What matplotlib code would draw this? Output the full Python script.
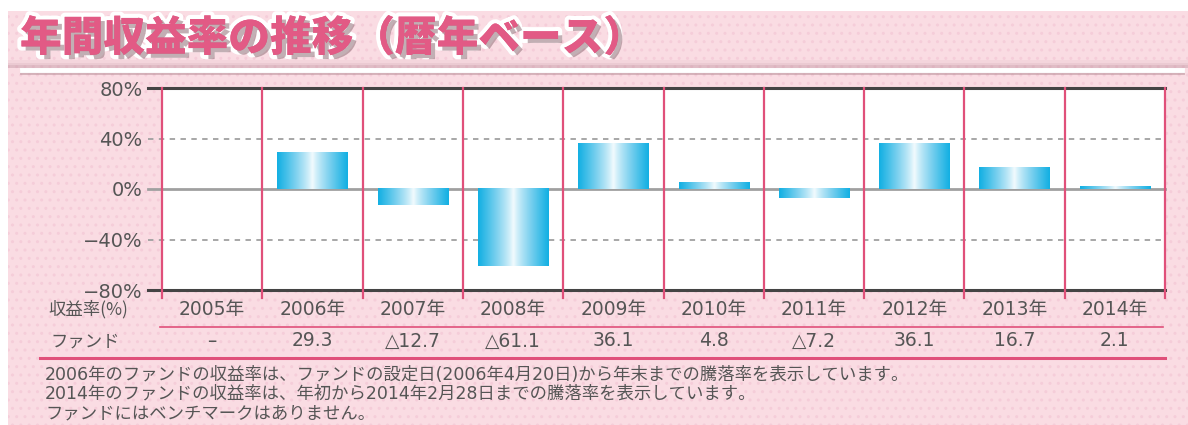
import matplotlib
matplotlib.use("Agg")
import matplotlib.pyplot as plt
import matplotlib.patheffects as pe
from matplotlib.patches import Rectangle
from matplotlib.colors import LinearSegmentedColormap
import matplotlib.transforms as mtransforms
import numpy as np

plt.rcParams['font.family'] = ['DejaVu Sans', 'Noto Sans CJK JP']

# ---- data ----
years = ["2005年", "2006年", "2007年", "2008年", "2009年", "2010年", "2011年", "2012年", "2013年", "2014年"]
fund_returns = [None, 29.3, -12.7, -61.1, 36.1, 4.8, -7.2, 36.1, 16.7, 2.1]
y_ticks = [80, 40, 0, -40, -80]
y_tick_labels = ["80%", "40%", "0%", "−40%", "−80%"]
title = "年間収益率の推移（暦年ベース）"
row_header = "収益率(%)"
row_label = "ファンド"
notes = [
    "2006年のファンドの収益率は、ファンドの設定日(2006年4月20日)から年末までの騰落率を表示しています。",
    "2014年のファンドの収益率は、年初から2014年2月28日までの騰落率を表示しています。",
    "ファンドにはベンチマークはありません。",
]

W, H = 1188, 425
fig = plt.figure(figsize=(W / 100, H / 100), dpi=100)
fig.patch.set_facecolor("white")

def fx(px):
    return px / W

def fy(py):
    return 1 - py / H

PINK_BG = "#fadce3"
PINK_LINE = "#e0507a"
TEXT = "#555555"
CJK = ['Noto Sans CJK JP', 'DejaVu Sans']
MIX = ['DejaVu Sans', 'Noto Sans CJK JP']

# background
bg = Rectangle((fx(8), 0), 1 - fx(8), fy(11), transform=fig.transFigure,
               facecolor=PINK_BG, edgecolor="#f5cdd9", hatch="..", linewidth=0, zorder=-10)
fig.patches.append(bg)
# soft shadow above white line
for k, a in enumerate([0.10, 0.18, 0.28]):
    fig.patches.append(Rectangle((fx(8), fy(68)), 1 - fx(8), fy(60 + 2.5 * k) - fy(68),
                                 transform=fig.transFigure, facecolor="#c59aa6", alpha=a,
                                 edgecolor="none", zorder=-9))
# white line under title
fig.add_artist(plt.Line2D([fx(22), fx(1182)], [fy(70), fy(70)], transform=fig.transFigure,
                          color="white", lw=3.5,
                          path_effects=[pe.SimpleLineShadow(offset=(0, -1.5), shadow_color="#b08890", alpha=0.5), pe.Normal()]))

# title
fig.text(fx(20), fy(39), title, fontsize=30, fontweight="heavy", color="#e25a85",
         va="center", ha="left", family=CJK,
         path_effects=[pe.withStroke(linewidth=6, foreground="white"),
                       pe.SimplePatchShadow(offset=(3, -3), shadow_rgbFace="#9a7a82", alpha=0.6),
                       pe.Normal()])

# axes
L, R, T, B = 162, 1165, 88, 290
ax = fig.add_axes([fx(L), fy(B), fx(R) - fx(L), fy(T) - fy(B)])
ax.set_facecolor("white")
n = len(years)
for s in ax.spines.values():
    s.set_visible(False)
ax.set_xticks([])
ax.set_yticks(y_ticks)
ax.set_yticklabels(y_tick_labels, fontsize=14, color=TEXT, family="DejaVu Sans")
ax.tick_params(axis="y", length=0, pad=14)

# horizontal lines
trans_ax_x = mtransforms.blended_transform_factory(fig.transFigure, ax.transData)
for yv in [80, -80]:
    ax.add_artist(plt.Line2D([fx(148), fx(R)], [yv, yv], transform=trans_ax_x,
                             color="#444444", lw=2.2, clip_on=False, zorder=5))
ax.add_artist(plt.Line2D([fx(148), fx(R)], [0, 0], transform=trans_ax_x,
                         color="#a0a0a0", lw=2, clip_on=False, zorder=1))
for yv in [40, -40]:
    ax.add_artist(plt.Line2D([fx(148), fx(R)], [yv, yv], transform=trans_ax_x,
                             color="#a0a0a0", lw=1.3, ls=(0, (3, 3)), clip_on=False, zorder=1))

# vertical pink separators
trans_x_fig = mtransforms.blended_transform_factory(ax.transData, fig.transFigure)
for i in range(n + 1):
    ax.add_artist(plt.Line2D([i - 0.5, i - 0.5], [fy(T), fy(298)], transform=trans_x_fig,
                             color=PINK_LINE, lw=1.6, clip_on=False, zorder=6))

# gradient bars
cmap = LinearSegmentedColormap.from_list("cy", ["#eef9fd", "#86d4f0", "#14b0e3"])
grad = np.abs(np.linspace(-1, 1, 64)) ** 0.8
grad = grad.reshape(1, -1)
bw = 0.7
for i, v in enumerate(fund_returns):
    if v is None:
        continue
    y0, y1 = (0, v) if v >= 0 else (v, 0)
    ax.imshow(grad, cmap=cmap, aspect="auto", extent=(i - bw / 2, i + bw / 2, y0, y1),
              interpolation="bilinear", zorder=3)
ax.set_xlim(-0.5, n - 0.5)
ax.set_ylim(-80, 80)

# table
fig.text(fx(88), fy(309), row_header, fontsize=12.5, color=TEXT, ha="center", va="center", family=CJK)
fig.text(fx(85), fy(341), row_label, fontsize=12.5, color=TEXT, ha="center", va="center", family=CJK)
for i, yr in enumerate(years):
    ax.text(i, fy(309), yr, transform=trans_x_fig, fontsize=13.5, color=TEXT,
            ha="center", va="center", family=MIX)
    v = fund_returns[i]
    if v is None:
        lab = "–"
    elif v < 0:
        lab = "△" + f"{abs(v):.1f}"
    else:
        lab = f"{v:.1f}"
    ax.text(i, fy(341), lab, transform=trans_x_fig, fontsize=13.5, color=TEXT,
            ha="center", va="center", family=MIX)

fig.add_artist(plt.Line2D([fx(160), fx(1163)], [fy(327), fy(327)], transform=fig.transFigure,
                          color=PINK_LINE, lw=1.2))
fig.add_artist(plt.Line2D([fx(40), fx(1165)], [fy(358), fy(358)], transform=fig.transFigure,
                          color=PINK_LINE, lw=2.2))

note_y = [375, 394, 413]
for k, line in enumerate(notes):
    fig.text(fx(45), fy(note_y[k]), line, fontsize=12.5, color=TEXT, ha="left", va="center",
             family=MIX)

fig.savefig("out.png", dpi=100)
